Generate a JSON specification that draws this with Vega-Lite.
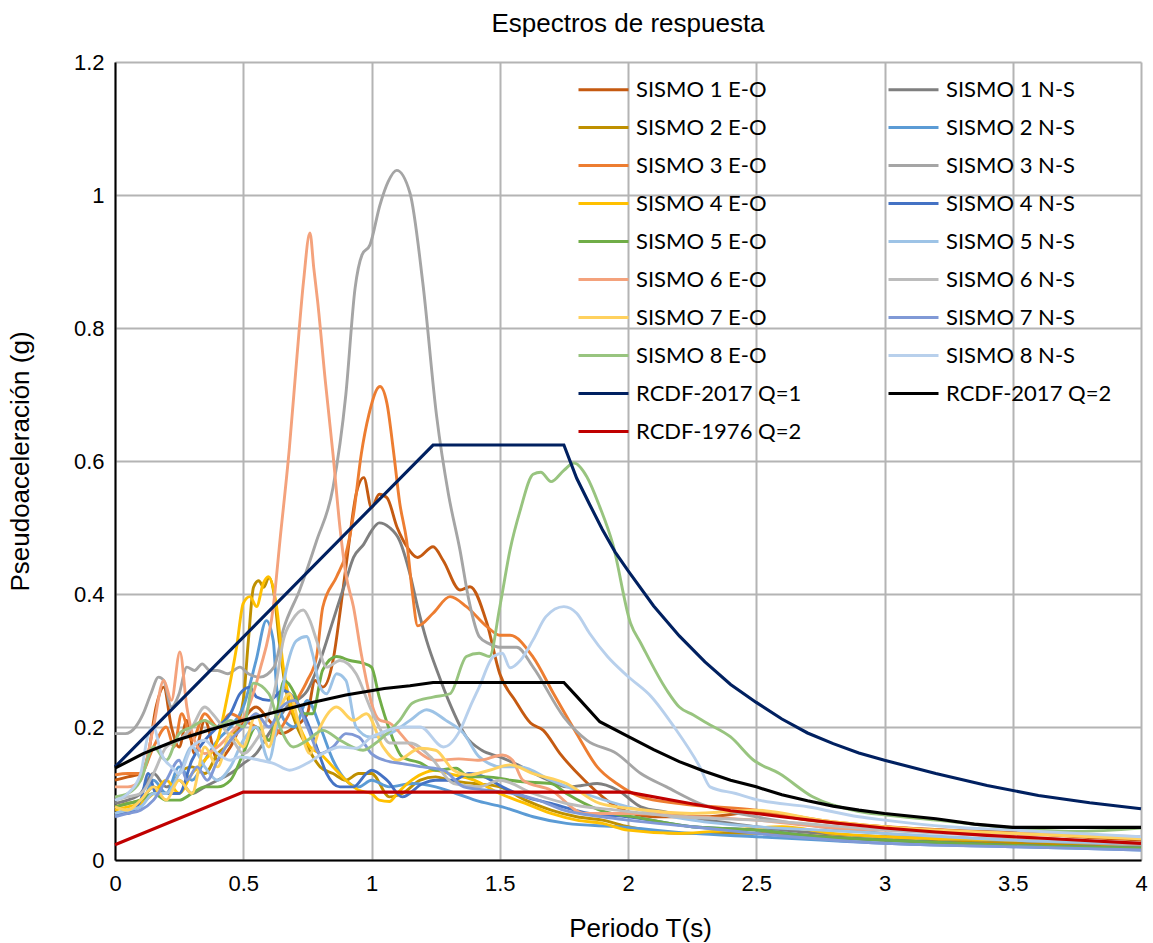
{
"$schema":"https://vega.github.io/schema/vega-lite/v6.json",
"width":1026,"height":798,
"autosize":{"type":"none"},
"padding":{"left":115,"top":62,"right":12,"bottom":83},
"background":"white",
"title":{"text":"Espectros de respuesta","font":"Liberation Sans","fontSize":26,"fontWeight":"normal","color":"#000","anchor":"middle","offset":14},
"datasets":{
"sismos":[
{"serie":"SISMO 1 E-O","T":0,"Sa":0.12},{"serie":"SISMO 1 E-O","T":0.05,"Sa":0.125},{"serie":"SISMO 1 E-O","T":0.1,"Sa":0.13},{"serie":"SISMO 1 E-O","T":0.13,"Sa":0.16},{"serie":"SISMO 1 E-O","T":0.16,"Sa":0.23},{"serie":"SISMO 1 E-O","T":0.19,"Sa":0.26},{"serie":"SISMO 1 E-O","T":0.22,"Sa":0.2},{"serie":"SISMO 1 E-O","T":0.25,"Sa":0.17},{"serie":"SISMO 1 E-O","T":0.28,"Sa":0.21},{"serie":"SISMO 1 E-O","T":0.31,"Sa":0.16},{"serie":"SISMO 1 E-O","T":0.35,"Sa":0.21},{"serie":"SISMO 1 E-O","T":0.4,"Sa":0.15},{"serie":"SISMO 1 E-O","T":0.45,"Sa":0.17},{"serie":"SISMO 1 E-O","T":0.5,"Sa":0.21},{"serie":"SISMO 1 E-O","T":0.55,"Sa":0.23},{"serie":"SISMO 1 E-O","T":0.6,"Sa":0.21},{"serie":"SISMO 1 E-O","T":0.65,"Sa":0.19},{"serie":"SISMO 1 E-O","T":0.7,"Sa":0.2},{"serie":"SISMO 1 E-O","T":0.75,"Sa":0.22},{"serie":"SISMO 1 E-O","T":0.78,"Sa":0.27},{"serie":"SISMO 1 E-O","T":0.81,"Sa":0.26},{"serie":"SISMO 1 E-O","T":0.85,"Sa":0.3},{"serie":"SISMO 1 E-O","T":0.88,"Sa":0.38},{"serie":"SISMO 1 E-O","T":0.91,"Sa":0.47},{"serie":"SISMO 1 E-O","T":0.94,"Sa":0.55},{"serie":"SISMO 1 E-O","T":0.97,"Sa":0.575},{"serie":"SISMO 1 E-O","T":1.0,"Sa":0.53},{"serie":"SISMO 1 E-O","T":1.03,"Sa":0.55},{"serie":"SISMO 1 E-O","T":1.06,"Sa":0.545},{"serie":"SISMO 1 E-O","T":1.1,"Sa":0.5},{"serie":"SISMO 1 E-O","T":1.14,"Sa":0.47},{"serie":"SISMO 1 E-O","T":1.18,"Sa":0.455},{"serie":"SISMO 1 E-O","T":1.24,"Sa":0.471},{"serie":"SISMO 1 E-O","T":1.28,"Sa":0.45},{"serie":"SISMO 1 E-O","T":1.345,"Sa":0.406},{"serie":"SISMO 1 E-O","T":1.384,"Sa":0.411},{"serie":"SISMO 1 E-O","T":1.45,"Sa":0.356},{"serie":"SISMO 1 E-O","T":1.5,"Sa":0.28},{"serie":"SISMO 1 E-O","T":1.56,"Sa":0.24},{"serie":"SISMO 1 E-O","T":1.62,"Sa":0.206},{"serie":"SISMO 1 E-O","T":1.67,"Sa":0.195},{"serie":"SISMO 1 E-O","T":1.735,"Sa":0.16},{"serie":"SISMO 1 E-O","T":1.83,"Sa":0.12},{"serie":"SISMO 1 E-O","T":1.956,"Sa":0.08},{"serie":"SISMO 1 E-O","T":2.1,"Sa":0.065},{"serie":"SISMO 1 E-O","T":2.3,"Sa":0.065},{"serie":"SISMO 1 E-O","T":2.5,"Sa":0.072},{"serie":"SISMO 1 E-O","T":2.7,"Sa":0.06},{"serie":"SISMO 1 E-O","T":3.0,"Sa":0.05},{"serie":"SISMO 1 E-O","T":3.25,"Sa":0.045},{"serie":"SISMO 1 E-O","T":3.5,"Sa":0.042},{"serie":"SISMO 1 E-O","T":3.75,"Sa":0.035},{"serie":"SISMO 1 E-O","T":4.0,"Sa":0.03},
{"serie":"SISMO 1 N-S","T":0,"Sa":0.085},{"serie":"SISMO 1 N-S","T":0.05,"Sa":0.09},{"serie":"SISMO 1 N-S","T":0.1,"Sa":0.1},{"serie":"SISMO 1 N-S","T":0.15,"Sa":0.13},{"serie":"SISMO 1 N-S","T":0.2,"Sa":0.11},{"serie":"SISMO 1 N-S","T":0.25,"Sa":0.12},{"serie":"SISMO 1 N-S","T":0.3,"Sa":0.1},{"serie":"SISMO 1 N-S","T":0.35,"Sa":0.11},{"serie":"SISMO 1 N-S","T":0.4,"Sa":0.12},{"serie":"SISMO 1 N-S","T":0.45,"Sa":0.13},{"serie":"SISMO 1 N-S","T":0.5,"Sa":0.145},{"serie":"SISMO 1 N-S","T":0.55,"Sa":0.16},{"serie":"SISMO 1 N-S","T":0.6,"Sa":0.19},{"serie":"SISMO 1 N-S","T":0.67,"Sa":0.23},{"serie":"SISMO 1 N-S","T":0.75,"Sa":0.255},{"serie":"SISMO 1 N-S","T":0.8,"Sa":0.3},{"serie":"SISMO 1 N-S","T":0.85,"Sa":0.36},{"serie":"SISMO 1 N-S","T":0.9,"Sa":0.42},{"serie":"SISMO 1 N-S","T":0.93,"Sa":0.455},{"serie":"SISMO 1 N-S","T":0.97,"Sa":0.475},{"serie":"SISMO 1 N-S","T":1.0,"Sa":0.495},{"serie":"SISMO 1 N-S","T":1.03,"Sa":0.507},{"serie":"SISMO 1 N-S","T":1.07,"Sa":0.5},{"serie":"SISMO 1 N-S","T":1.11,"Sa":0.48},{"serie":"SISMO 1 N-S","T":1.15,"Sa":0.43},{"serie":"SISMO 1 N-S","T":1.18,"Sa":0.38},{"serie":"SISMO 1 N-S","T":1.215,"Sa":0.33},{"serie":"SISMO 1 N-S","T":1.26,"Sa":0.28},{"serie":"SISMO 1 N-S","T":1.3,"Sa":0.24},{"serie":"SISMO 1 N-S","T":1.37,"Sa":0.185},{"serie":"SISMO 1 N-S","T":1.43,"Sa":0.165},{"serie":"SISMO 1 N-S","T":1.5,"Sa":0.155},{"serie":"SISMO 1 N-S","T":1.56,"Sa":0.145},{"serie":"SISMO 1 N-S","T":1.62,"Sa":0.133},{"serie":"SISMO 1 N-S","T":1.69,"Sa":0.12},{"serie":"SISMO 1 N-S","T":1.76,"Sa":0.11},{"serie":"SISMO 1 N-S","T":1.82,"Sa":0.112},{"serie":"SISMO 1 N-S","T":1.88,"Sa":0.115},{"serie":"SISMO 1 N-S","T":1.96,"Sa":0.105},{"serie":"SISMO 1 N-S","T":2.05,"Sa":0.08},{"serie":"SISMO 1 N-S","T":2.15,"Sa":0.072},{"serie":"SISMO 1 N-S","T":2.28,"Sa":0.062},{"serie":"SISMO 1 N-S","T":2.5,"Sa":0.05},{"serie":"SISMO 1 N-S","T":2.75,"Sa":0.04},{"serie":"SISMO 1 N-S","T":3.0,"Sa":0.035},{"serie":"SISMO 1 N-S","T":3.5,"Sa":0.028},{"serie":"SISMO 1 N-S","T":4.0,"Sa":0.02},
{"serie":"SISMO 2 E-O","T":0,"Sa":0.08},{"serie":"SISMO 2 E-O","T":0.05,"Sa":0.085},{"serie":"SISMO 2 E-O","T":0.1,"Sa":0.09},{"serie":"SISMO 2 E-O","T":0.15,"Sa":0.11},{"serie":"SISMO 2 E-O","T":0.2,"Sa":0.1},{"serie":"SISMO 2 E-O","T":0.25,"Sa":0.13},{"serie":"SISMO 2 E-O","T":0.3,"Sa":0.14},{"serie":"SISMO 2 E-O","T":0.35,"Sa":0.13},{"serie":"SISMO 2 E-O","T":0.4,"Sa":0.16},{"serie":"SISMO 2 E-O","T":0.45,"Sa":0.18},{"serie":"SISMO 2 E-O","T":0.5,"Sa":0.24},{"serie":"SISMO 2 E-O","T":0.52,"Sa":0.33},{"serie":"SISMO 2 E-O","T":0.54,"Sa":0.41},{"serie":"SISMO 2 E-O","T":0.56,"Sa":0.42},{"serie":"SISMO 2 E-O","T":0.58,"Sa":0.41},{"serie":"SISMO 2 E-O","T":0.6,"Sa":0.425},{"serie":"SISMO 2 E-O","T":0.62,"Sa":0.4},{"serie":"SISMO 2 E-O","T":0.64,"Sa":0.33},{"serie":"SISMO 2 E-O","T":0.66,"Sa":0.27},{"serie":"SISMO 2 E-O","T":0.7,"Sa":0.21},{"serie":"SISMO 2 E-O","T":0.75,"Sa":0.17},{"serie":"SISMO 2 E-O","T":0.8,"Sa":0.14},{"serie":"SISMO 2 E-O","T":0.85,"Sa":0.13},{"serie":"SISMO 2 E-O","T":0.9,"Sa":0.12},{"serie":"SISMO 2 E-O","T":0.95,"Sa":0.13},{"serie":"SISMO 2 E-O","T":1.0,"Sa":0.13},{"serie":"SISMO 2 E-O","T":1.07,"Sa":0.095},{"serie":"SISMO 2 E-O","T":1.12,"Sa":0.1},{"serie":"SISMO 2 E-O","T":1.19,"Sa":0.12},{"serie":"SISMO 2 E-O","T":1.25,"Sa":0.125},{"serie":"SISMO 2 E-O","T":1.3,"Sa":0.12},{"serie":"SISMO 2 E-O","T":1.4,"Sa":0.115},{"serie":"SISMO 2 E-O","T":1.5,"Sa":0.11},{"serie":"SISMO 2 E-O","T":1.6,"Sa":0.09},{"serie":"SISMO 2 E-O","T":1.7,"Sa":0.075},{"serie":"SISMO 2 E-O","T":1.8,"Sa":0.065},{"serie":"SISMO 2 E-O","T":1.9,"Sa":0.06},{"serie":"SISMO 2 E-O","T":2.0,"Sa":0.05},{"serie":"SISMO 2 E-O","T":2.2,"Sa":0.04},{"serie":"SISMO 2 E-O","T":2.5,"Sa":0.04},{"serie":"SISMO 2 E-O","T":3.0,"Sa":0.03},{"serie":"SISMO 2 E-O","T":3.5,"Sa":0.025},{"serie":"SISMO 2 E-O","T":4.0,"Sa":0.02},
{"serie":"SISMO 2 N-S","T":0,"Sa":0.07},{"serie":"SISMO 2 N-S","T":0.05,"Sa":0.075},{"serie":"SISMO 2 N-S","T":0.1,"Sa":0.08},{"serie":"SISMO 2 N-S","T":0.15,"Sa":0.12},{"serie":"SISMO 2 N-S","T":0.2,"Sa":0.1},{"serie":"SISMO 2 N-S","T":0.25,"Sa":0.14},{"serie":"SISMO 2 N-S","T":0.3,"Sa":0.12},{"serie":"SISMO 2 N-S","T":0.35,"Sa":0.15},{"serie":"SISMO 2 N-S","T":0.4,"Sa":0.18},{"serie":"SISMO 2 N-S","T":0.45,"Sa":0.2},{"serie":"SISMO 2 N-S","T":0.5,"Sa":0.23},{"serie":"SISMO 2 N-S","T":0.55,"Sa":0.3},{"serie":"SISMO 2 N-S","T":0.59,"Sa":0.36},{"serie":"SISMO 2 N-S","T":0.617,"Sa":0.33},{"serie":"SISMO 2 N-S","T":0.63,"Sa":0.26},{"serie":"SISMO 2 N-S","T":0.66,"Sa":0.21},{"serie":"SISMO 2 N-S","T":0.7,"Sa":0.2},{"serie":"SISMO 2 N-S","T":0.75,"Sa":0.24},{"serie":"SISMO 2 N-S","T":0.8,"Sa":0.2},{"serie":"SISMO 2 N-S","T":0.85,"Sa":0.15},{"serie":"SISMO 2 N-S","T":0.9,"Sa":0.12},{"serie":"SISMO 2 N-S","T":0.95,"Sa":0.11},{"serie":"SISMO 2 N-S","T":1.0,"Sa":0.12},{"serie":"SISMO 2 N-S","T":1.07,"Sa":0.11},{"serie":"SISMO 2 N-S","T":1.16,"Sa":0.115},{"serie":"SISMO 2 N-S","T":1.25,"Sa":0.11},{"serie":"SISMO 2 N-S","T":1.33,"Sa":0.1},{"serie":"SISMO 2 N-S","T":1.42,"Sa":0.088},{"serie":"SISMO 2 N-S","T":1.51,"Sa":0.08},{"serie":"SISMO 2 N-S","T":1.63,"Sa":0.065},{"serie":"SISMO 2 N-S","T":1.76,"Sa":0.055},{"serie":"SISMO 2 N-S","T":1.96,"Sa":0.05},{"serie":"SISMO 2 N-S","T":2.25,"Sa":0.04},{"serie":"SISMO 2 N-S","T":2.5,"Sa":0.035},{"serie":"SISMO 2 N-S","T":2.75,"Sa":0.03},{"serie":"SISMO 2 N-S","T":3.0,"Sa":0.025},{"serie":"SISMO 2 N-S","T":3.5,"Sa":0.02},{"serie":"SISMO 2 N-S","T":4.0,"Sa":0.015},
{"serie":"SISMO 3 E-O","T":0,"Sa":0.128},{"serie":"SISMO 3 E-O","T":0.05,"Sa":0.13},{"serie":"SISMO 3 E-O","T":0.1,"Sa":0.13},{"serie":"SISMO 3 E-O","T":0.15,"Sa":0.17},{"serie":"SISMO 3 E-O","T":0.2,"Sa":0.2},{"serie":"SISMO 3 E-O","T":0.23,"Sa":0.17},{"serie":"SISMO 3 E-O","T":0.26,"Sa":0.22},{"serie":"SISMO 3 E-O","T":0.3,"Sa":0.18},{"serie":"SISMO 3 E-O","T":0.35,"Sa":0.22},{"serie":"SISMO 3 E-O","T":0.4,"Sa":0.2},{"serie":"SISMO 3 E-O","T":0.45,"Sa":0.22},{"serie":"SISMO 3 E-O","T":0.5,"Sa":0.21},{"serie":"SISMO 3 E-O","T":0.55,"Sa":0.2},{"serie":"SISMO 3 E-O","T":0.6,"Sa":0.18},{"serie":"SISMO 3 E-O","T":0.65,"Sa":0.2},{"serie":"SISMO 3 E-O","T":0.7,"Sa":0.235},{"serie":"SISMO 3 E-O","T":0.75,"Sa":0.27},{"serie":"SISMO 3 E-O","T":0.786,"Sa":0.306},{"serie":"SISMO 3 E-O","T":0.81,"Sa":0.38},{"serie":"SISMO 3 E-O","T":0.864,"Sa":0.426},{"serie":"SISMO 3 E-O","T":0.9,"Sa":0.46},{"serie":"SISMO 3 E-O","T":0.93,"Sa":0.52},{"serie":"SISMO 3 E-O","T":0.96,"Sa":0.61},{"serie":"SISMO 3 E-O","T":0.99,"Sa":0.67},{"serie":"SISMO 3 E-O","T":1.033,"Sa":0.712},{"serie":"SISMO 3 E-O","T":1.06,"Sa":0.687},{"serie":"SISMO 3 E-O","T":1.085,"Sa":0.617},{"serie":"SISMO 3 E-O","T":1.11,"Sa":0.537},{"serie":"SISMO 3 E-O","T":1.137,"Sa":0.48},{"serie":"SISMO 3 E-O","T":1.16,"Sa":0.4},{"serie":"SISMO 3 E-O","T":1.18,"Sa":0.352},{"serie":"SISMO 3 E-O","T":1.24,"Sa":0.371},{"serie":"SISMO 3 E-O","T":1.306,"Sa":0.396},{"serie":"SISMO 3 E-O","T":1.37,"Sa":0.381},{"serie":"SISMO 3 E-O","T":1.45,"Sa":0.351},{"serie":"SISMO 3 E-O","T":1.5,"Sa":0.338},{"serie":"SISMO 3 E-O","T":1.54,"Sa":0.338},{"serie":"SISMO 3 E-O","T":1.63,"Sa":0.305},{"serie":"SISMO 3 E-O","T":1.71,"Sa":0.25},{"serie":"SISMO 3 E-O","T":1.8,"Sa":0.19},{"serie":"SISMO 3 E-O","T":1.88,"Sa":0.14},{"serie":"SISMO 3 E-O","T":1.956,"Sa":0.115},{"serie":"SISMO 3 E-O","T":2.05,"Sa":0.095},{"serie":"SISMO 3 E-O","T":2.2,"Sa":0.085},{"serie":"SISMO 3 E-O","T":2.5,"Sa":0.075},{"serie":"SISMO 3 E-O","T":2.75,"Sa":0.06},{"serie":"SISMO 3 E-O","T":3.0,"Sa":0.05},{"serie":"SISMO 3 E-O","T":3.5,"Sa":0.04},{"serie":"SISMO 3 E-O","T":4.0,"Sa":0.032},
{"serie":"SISMO 3 N-S","T":0,"Sa":0.19},{"serie":"SISMO 3 N-S","T":0.04,"Sa":0.19},{"serie":"SISMO 3 N-S","T":0.08,"Sa":0.2},{"serie":"SISMO 3 N-S","T":0.11,"Sa":0.22},{"serie":"SISMO 3 N-S","T":0.14,"Sa":0.25},{"serie":"SISMO 3 N-S","T":0.17,"Sa":0.275},{"serie":"SISMO 3 N-S","T":0.19,"Sa":0.27},{"serie":"SISMO 3 N-S","T":0.22,"Sa":0.23},{"serie":"SISMO 3 N-S","T":0.25,"Sa":0.25},{"serie":"SISMO 3 N-S","T":0.28,"Sa":0.29},{"serie":"SISMO 3 N-S","T":0.31,"Sa":0.285},{"serie":"SISMO 3 N-S","T":0.34,"Sa":0.295},{"serie":"SISMO 3 N-S","T":0.37,"Sa":0.285},{"serie":"SISMO 3 N-S","T":0.4,"Sa":0.285},{"serie":"SISMO 3 N-S","T":0.44,"Sa":0.28},{"serie":"SISMO 3 N-S","T":0.487,"Sa":0.29},{"serie":"SISMO 3 N-S","T":0.52,"Sa":0.28},{"serie":"SISMO 3 N-S","T":0.565,"Sa":0.275},{"serie":"SISMO 3 N-S","T":0.62,"Sa":0.29},{"serie":"SISMO 3 N-S","T":0.656,"Sa":0.346},{"serie":"SISMO 3 N-S","T":0.72,"Sa":0.406},{"serie":"SISMO 3 N-S","T":0.786,"Sa":0.48},{"serie":"SISMO 3 N-S","T":0.85,"Sa":0.56},{"serie":"SISMO 3 N-S","T":0.9,"Sa":0.7},{"serie":"SISMO 3 N-S","T":0.936,"Sa":0.86},{"serie":"SISMO 3 N-S","T":0.963,"Sa":0.91},{"serie":"SISMO 3 N-S","T":0.994,"Sa":0.925},{"serie":"SISMO 3 N-S","T":1.033,"Sa":0.985},{"serie":"SISMO 3 N-S","T":1.065,"Sa":1.02},{"serie":"SISMO 3 N-S","T":1.098,"Sa":1.037},{"serie":"SISMO 3 N-S","T":1.15,"Sa":1.003},{"serie":"SISMO 3 N-S","T":1.2,"Sa":0.868},{"serie":"SISMO 3 N-S","T":1.254,"Sa":0.667},{"serie":"SISMO 3 N-S","T":1.3,"Sa":0.55},{"serie":"SISMO 3 N-S","T":1.345,"Sa":0.466},{"serie":"SISMO 3 N-S","T":1.38,"Sa":0.39},{"serie":"SISMO 3 N-S","T":1.42,"Sa":0.336},{"serie":"SISMO 3 N-S","T":1.46,"Sa":0.325},{"serie":"SISMO 3 N-S","T":1.5,"Sa":0.32},{"serie":"SISMO 3 N-S","T":1.566,"Sa":0.32},{"serie":"SISMO 3 N-S","T":1.63,"Sa":0.29},{"serie":"SISMO 3 N-S","T":1.75,"Sa":0.215},{"serie":"SISMO 3 N-S","T":1.84,"Sa":0.18},{"serie":"SISMO 3 N-S","T":1.956,"Sa":0.16},{"serie":"SISMO 3 N-S","T":2.05,"Sa":0.13},{"serie":"SISMO 3 N-S","T":2.15,"Sa":0.11},{"serie":"SISMO 3 N-S","T":2.28,"Sa":0.085},{"serie":"SISMO 3 N-S","T":2.5,"Sa":0.065},{"serie":"SISMO 3 N-S","T":2.75,"Sa":0.05},{"serie":"SISMO 3 N-S","T":3.0,"Sa":0.04},{"serie":"SISMO 3 N-S","T":3.5,"Sa":0.03},{"serie":"SISMO 3 N-S","T":4.0,"Sa":0.022},
{"serie":"SISMO 4 E-O","T":0,"Sa":0.075},{"serie":"SISMO 4 E-O","T":0.05,"Sa":0.08},{"serie":"SISMO 4 E-O","T":0.1,"Sa":0.085},{"serie":"SISMO 4 E-O","T":0.15,"Sa":0.1},{"serie":"SISMO 4 E-O","T":0.2,"Sa":0.12},{"serie":"SISMO 4 E-O","T":0.25,"Sa":0.1},{"serie":"SISMO 4 E-O","T":0.3,"Sa":0.13},{"serie":"SISMO 4 E-O","T":0.35,"Sa":0.15},{"serie":"SISMO 4 E-O","T":0.4,"Sa":0.18},{"serie":"SISMO 4 E-O","T":0.435,"Sa":0.24},{"serie":"SISMO 4 E-O","T":0.474,"Sa":0.32},{"serie":"SISMO 4 E-O","T":0.5,"Sa":0.386},{"serie":"SISMO 4 E-O","T":0.526,"Sa":0.396},{"serie":"SISMO 4 E-O","T":0.552,"Sa":0.381},{"serie":"SISMO 4 E-O","T":0.578,"Sa":0.416},{"serie":"SISMO 4 E-O","T":0.598,"Sa":0.426},{"serie":"SISMO 4 E-O","T":0.63,"Sa":0.381},{"serie":"SISMO 4 E-O","T":0.656,"Sa":0.29},{"serie":"SISMO 4 E-O","T":0.68,"Sa":0.24},{"serie":"SISMO 4 E-O","T":0.72,"Sa":0.2},{"serie":"SISMO 4 E-O","T":0.76,"Sa":0.17},{"serie":"SISMO 4 E-O","T":0.8,"Sa":0.16},{"serie":"SISMO 4 E-O","T":0.85,"Sa":0.14},{"serie":"SISMO 4 E-O","T":0.9,"Sa":0.12},{"serie":"SISMO 4 E-O","T":0.95,"Sa":0.105},{"serie":"SISMO 4 E-O","T":1.0,"Sa":0.1},{"serie":"SISMO 4 E-O","T":1.03,"Sa":0.09},{"serie":"SISMO 4 E-O","T":1.07,"Sa":0.088},{"serie":"SISMO 4 E-O","T":1.1,"Sa":0.1},{"serie":"SISMO 4 E-O","T":1.14,"Sa":0.115},{"serie":"SISMO 4 E-O","T":1.2,"Sa":0.13},{"serie":"SISMO 4 E-O","T":1.25,"Sa":0.135},{"serie":"SISMO 4 E-O","T":1.3,"Sa":0.13},{"serie":"SISMO 4 E-O","T":1.4,"Sa":0.12},{"serie":"SISMO 4 E-O","T":1.5,"Sa":0.1},{"serie":"SISMO 4 E-O","T":1.6,"Sa":0.085},{"serie":"SISMO 4 E-O","T":1.7,"Sa":0.07},{"serie":"SISMO 4 E-O","T":1.8,"Sa":0.06},{"serie":"SISMO 4 E-O","T":1.9,"Sa":0.055},{"serie":"SISMO 4 E-O","T":2.0,"Sa":0.045},{"serie":"SISMO 4 E-O","T":2.2,"Sa":0.04},{"serie":"SISMO 4 E-O","T":2.4,"Sa":0.045},{"serie":"SISMO 4 E-O","T":2.6,"Sa":0.05},{"serie":"SISMO 4 E-O","T":2.8,"Sa":0.04},{"serie":"SISMO 4 E-O","T":3.0,"Sa":0.035},{"serie":"SISMO 4 E-O","T":3.5,"Sa":0.03},{"serie":"SISMO 4 E-O","T":4.0,"Sa":0.025},
{"serie":"SISMO 4 N-S","T":0,"Sa":0.07},{"serie":"SISMO 4 N-S","T":0.05,"Sa":0.07},{"serie":"SISMO 4 N-S","T":0.1,"Sa":0.09},{"serie":"SISMO 4 N-S","T":0.13,"Sa":0.13},{"serie":"SISMO 4 N-S","T":0.16,"Sa":0.1},{"serie":"SISMO 4 N-S","T":0.2,"Sa":0.1},{"serie":"SISMO 4 N-S","T":0.25,"Sa":0.1},{"serie":"SISMO 4 N-S","T":0.3,"Sa":0.15},{"serie":"SISMO 4 N-S","T":0.35,"Sa":0.18},{"serie":"SISMO 4 N-S","T":0.4,"Sa":0.2},{"serie":"SISMO 4 N-S","T":0.45,"Sa":0.22},{"serie":"SISMO 4 N-S","T":0.487,"Sa":0.25},{"serie":"SISMO 4 N-S","T":0.526,"Sa":0.26},{"serie":"SISMO 4 N-S","T":0.552,"Sa":0.245},{"serie":"SISMO 4 N-S","T":0.6,"Sa":0.24},{"serie":"SISMO 4 N-S","T":0.656,"Sa":0.255},{"serie":"SISMO 4 N-S","T":0.695,"Sa":0.245},{"serie":"SISMO 4 N-S","T":0.747,"Sa":0.21},{"serie":"SISMO 4 N-S","T":0.786,"Sa":0.17},{"serie":"SISMO 4 N-S","T":0.825,"Sa":0.13},{"serie":"SISMO 4 N-S","T":0.877,"Sa":0.11},{"serie":"SISMO 4 N-S","T":0.93,"Sa":0.11},{"serie":"SISMO 4 N-S","T":0.98,"Sa":0.13},{"serie":"SISMO 4 N-S","T":1.0,"Sa":0.135},{"serie":"SISMO 4 N-S","T":1.06,"Sa":0.12},{"serie":"SISMO 4 N-S","T":1.12,"Sa":0.095},{"serie":"SISMO 4 N-S","T":1.2,"Sa":0.115},{"serie":"SISMO 4 N-S","T":1.25,"Sa":0.12},{"serie":"SISMO 4 N-S","T":1.32,"Sa":0.12},{"serie":"SISMO 4 N-S","T":1.38,"Sa":0.13},{"serie":"SISMO 4 N-S","T":1.44,"Sa":0.125},{"serie":"SISMO 4 N-S","T":1.51,"Sa":0.11},{"serie":"SISMO 4 N-S","T":1.6,"Sa":0.095},{"serie":"SISMO 4 N-S","T":1.7,"Sa":0.085},{"serie":"SISMO 4 N-S","T":1.85,"Sa":0.07},{"serie":"SISMO 4 N-S","T":2.0,"Sa":0.065},{"serie":"SISMO 4 N-S","T":2.25,"Sa":0.05},{"serie":"SISMO 4 N-S","T":2.5,"Sa":0.045},{"serie":"SISMO 4 N-S","T":2.75,"Sa":0.035},{"serie":"SISMO 4 N-S","T":3.0,"Sa":0.03},{"serie":"SISMO 4 N-S","T":3.5,"Sa":0.022},{"serie":"SISMO 4 N-S","T":4.0,"Sa":0.018},
{"serie":"SISMO 5 E-O","T":0,"Sa":0.08},{"serie":"SISMO 5 E-O","T":0.05,"Sa":0.085},{"serie":"SISMO 5 E-O","T":0.1,"Sa":0.09},{"serie":"SISMO 5 E-O","T":0.15,"Sa":0.1},{"serie":"SISMO 5 E-O","T":0.2,"Sa":0.09},{"serie":"SISMO 5 E-O","T":0.25,"Sa":0.09},{"serie":"SISMO 5 E-O","T":0.3,"Sa":0.1},{"serie":"SISMO 5 E-O","T":0.35,"Sa":0.11},{"serie":"SISMO 5 E-O","T":0.4,"Sa":0.11},{"serie":"SISMO 5 E-O","T":0.45,"Sa":0.12},{"serie":"SISMO 5 E-O","T":0.5,"Sa":0.16},{"serie":"SISMO 5 E-O","T":0.55,"Sa":0.2},{"serie":"SISMO 5 E-O","T":0.6,"Sa":0.18},{"serie":"SISMO 5 E-O","T":0.63,"Sa":0.22},{"serie":"SISMO 5 E-O","T":0.66,"Sa":0.27},{"serie":"SISMO 5 E-O","T":0.7,"Sa":0.25},{"serie":"SISMO 5 E-O","T":0.73,"Sa":0.22},{"serie":"SISMO 5 E-O","T":0.77,"Sa":0.22},{"serie":"SISMO 5 E-O","T":0.81,"Sa":0.286},{"serie":"SISMO 5 E-O","T":0.864,"Sa":0.306},{"serie":"SISMO 5 E-O","T":0.916,"Sa":0.3},{"serie":"SISMO 5 E-O","T":0.967,"Sa":0.296},{"serie":"SISMO 5 E-O","T":1.0,"Sa":0.29},{"serie":"SISMO 5 E-O","T":1.03,"Sa":0.245},{"serie":"SISMO 5 E-O","T":1.07,"Sa":0.196},{"serie":"SISMO 5 E-O","T":1.12,"Sa":0.155},{"serie":"SISMO 5 E-O","T":1.19,"Sa":0.146},{"serie":"SISMO 5 E-O","T":1.25,"Sa":0.135},{"serie":"SISMO 5 E-O","T":1.33,"Sa":0.138},{"serie":"SISMO 5 E-O","T":1.38,"Sa":0.125},{"serie":"SISMO 5 E-O","T":1.45,"Sa":0.125},{"serie":"SISMO 5 E-O","T":1.54,"Sa":0.12},{"serie":"SISMO 5 E-O","T":1.58,"Sa":0.118},{"serie":"SISMO 5 E-O","T":1.7,"Sa":0.115},{"serie":"SISMO 5 E-O","T":1.76,"Sa":0.1},{"serie":"SISMO 5 E-O","T":1.89,"Sa":0.075},{"serie":"SISMO 5 E-O","T":2.05,"Sa":0.063},{"serie":"SISMO 5 E-O","T":2.25,"Sa":0.05},{"serie":"SISMO 5 E-O","T":2.5,"Sa":0.045},{"serie":"SISMO 5 E-O","T":2.75,"Sa":0.035},{"serie":"SISMO 5 E-O","T":3.0,"Sa":0.03},{"serie":"SISMO 5 E-O","T":3.5,"Sa":0.022},{"serie":"SISMO 5 E-O","T":4.0,"Sa":0.018},
{"serie":"SISMO 5 N-S","T":0,"Sa":0.07},{"serie":"SISMO 5 N-S","T":0.05,"Sa":0.075},{"serie":"SISMO 5 N-S","T":0.1,"Sa":0.08},{"serie":"SISMO 5 N-S","T":0.15,"Sa":0.1},{"serie":"SISMO 5 N-S","T":0.2,"Sa":0.1},{"serie":"SISMO 5 N-S","T":0.25,"Sa":0.13},{"serie":"SISMO 5 N-S","T":0.3,"Sa":0.17},{"serie":"SISMO 5 N-S","T":0.35,"Sa":0.14},{"serie":"SISMO 5 N-S","T":0.4,"Sa":0.12},{"serie":"SISMO 5 N-S","T":0.45,"Sa":0.14},{"serie":"SISMO 5 N-S","T":0.5,"Sa":0.18},{"serie":"SISMO 5 N-S","T":0.55,"Sa":0.2},{"serie":"SISMO 5 N-S","T":0.6,"Sa":0.15},{"serie":"SISMO 5 N-S","T":0.63,"Sa":0.2},{"serie":"SISMO 5 N-S","T":0.67,"Sa":0.29},{"serie":"SISMO 5 N-S","T":0.708,"Sa":0.33},{"serie":"SISMO 5 N-S","T":0.747,"Sa":0.336},{"serie":"SISMO 5 N-S","T":0.77,"Sa":0.31},{"serie":"SISMO 5 N-S","T":0.8,"Sa":0.26},{"serie":"SISMO 5 N-S","T":0.825,"Sa":0.25},{"serie":"SISMO 5 N-S","T":0.864,"Sa":0.28},{"serie":"SISMO 5 N-S","T":0.9,"Sa":0.27},{"serie":"SISMO 5 N-S","T":0.94,"Sa":0.2},{"serie":"SISMO 5 N-S","T":0.994,"Sa":0.185},{"serie":"SISMO 5 N-S","T":1.07,"Sa":0.19},{"serie":"SISMO 5 N-S","T":1.15,"Sa":0.21},{"serie":"SISMO 5 N-S","T":1.215,"Sa":0.226},{"serie":"SISMO 5 N-S","T":1.29,"Sa":0.21},{"serie":"SISMO 5 N-S","T":1.36,"Sa":0.19},{"serie":"SISMO 5 N-S","T":1.42,"Sa":0.155},{"serie":"SISMO 5 N-S","T":1.51,"Sa":0.14},{"serie":"SISMO 5 N-S","T":1.58,"Sa":0.14},{"serie":"SISMO 5 N-S","T":1.7,"Sa":0.12},{"serie":"SISMO 5 N-S","T":1.83,"Sa":0.1},{"serie":"SISMO 5 N-S","T":2.0,"Sa":0.08},{"serie":"SISMO 5 N-S","T":2.25,"Sa":0.06},{"serie":"SISMO 5 N-S","T":2.5,"Sa":0.05},{"serie":"SISMO 5 N-S","T":2.75,"Sa":0.045},{"serie":"SISMO 5 N-S","T":3.0,"Sa":0.04},{"serie":"SISMO 5 N-S","T":3.5,"Sa":0.03},{"serie":"SISMO 5 N-S","T":4.0,"Sa":0.025},
{"serie":"SISMO 6 E-O","T":0,"Sa":0.11},{"serie":"SISMO 6 E-O","T":0.05,"Sa":0.11},{"serie":"SISMO 6 E-O","T":0.1,"Sa":0.12},{"serie":"SISMO 6 E-O","T":0.15,"Sa":0.2},{"serie":"SISMO 6 E-O","T":0.19,"Sa":0.27},{"serie":"SISMO 6 E-O","T":0.22,"Sa":0.24},{"serie":"SISMO 6 E-O","T":0.253,"Sa":0.313},{"serie":"SISMO 6 E-O","T":0.28,"Sa":0.23},{"serie":"SISMO 6 E-O","T":0.31,"Sa":0.18},{"serie":"SISMO 6 E-O","T":0.35,"Sa":0.16},{"serie":"SISMO 6 E-O","T":0.4,"Sa":0.17},{"serie":"SISMO 6 E-O","T":0.45,"Sa":0.19},{"serie":"SISMO 6 E-O","T":0.51,"Sa":0.22},{"serie":"SISMO 6 E-O","T":0.565,"Sa":0.286},{"serie":"SISMO 6 E-O","T":0.617,"Sa":0.38},{"serie":"SISMO 6 E-O","T":0.643,"Sa":0.48},{"serie":"SISMO 6 E-O","T":0.68,"Sa":0.62},{"serie":"SISMO 6 E-O","T":0.71,"Sa":0.76},{"serie":"SISMO 6 E-O","T":0.735,"Sa":0.87},{"serie":"SISMO 6 E-O","T":0.76,"Sa":0.943},{"serie":"SISMO 6 E-O","T":0.775,"Sa":0.89},{"serie":"SISMO 6 E-O","T":0.79,"Sa":0.84},{"serie":"SISMO 6 E-O","T":0.82,"Sa":0.72},{"serie":"SISMO 6 E-O","T":0.85,"Sa":0.61},{"serie":"SISMO 6 E-O","T":0.877,"Sa":0.5},{"serie":"SISMO 6 E-O","T":0.9,"Sa":0.43},{"serie":"SISMO 6 E-O","T":0.93,"Sa":0.38},{"serie":"SISMO 6 E-O","T":0.96,"Sa":0.31},{"serie":"SISMO 6 E-O","T":0.98,"Sa":0.27},{"serie":"SISMO 6 E-O","T":1.0,"Sa":0.236},{"serie":"SISMO 6 E-O","T":1.03,"Sa":0.211},{"serie":"SISMO 6 E-O","T":1.07,"Sa":0.206},{"serie":"SISMO 6 E-O","T":1.16,"Sa":0.17},{"serie":"SISMO 6 E-O","T":1.25,"Sa":0.15},{"serie":"SISMO 6 E-O","T":1.34,"Sa":0.152},{"serie":"SISMO 6 E-O","T":1.42,"Sa":0.15},{"serie":"SISMO 6 E-O","T":1.51,"Sa":0.158},{"serie":"SISMO 6 E-O","T":1.55,"Sa":0.15},{"serie":"SISMO 6 E-O","T":1.59,"Sa":0.12},{"serie":"SISMO 6 E-O","T":1.7,"Sa":0.105},{"serie":"SISMO 6 E-O","T":1.83,"Sa":0.07},{"serie":"SISMO 6 E-O","T":2.02,"Sa":0.07},{"serie":"SISMO 6 E-O","T":2.25,"Sa":0.065},{"serie":"SISMO 6 E-O","T":2.5,"Sa":0.06},{"serie":"SISMO 6 E-O","T":2.75,"Sa":0.05},{"serie":"SISMO 6 E-O","T":3.0,"Sa":0.045},{"serie":"SISMO 6 E-O","T":3.5,"Sa":0.04},{"serie":"SISMO 6 E-O","T":4.0,"Sa":0.035},
{"serie":"SISMO 6 N-S","T":0,"Sa":0.09},{"serie":"SISMO 6 N-S","T":0.05,"Sa":0.095},{"serie":"SISMO 6 N-S","T":0.1,"Sa":0.1},{"serie":"SISMO 6 N-S","T":0.15,"Sa":0.13},{"serie":"SISMO 6 N-S","T":0.2,"Sa":0.17},{"serie":"SISMO 6 N-S","T":0.25,"Sa":0.18},{"serie":"SISMO 6 N-S","T":0.3,"Sa":0.2},{"serie":"SISMO 6 N-S","T":0.35,"Sa":0.23},{"serie":"SISMO 6 N-S","T":0.38,"Sa":0.22},{"serie":"SISMO 6 N-S","T":0.42,"Sa":0.2},{"serie":"SISMO 6 N-S","T":0.46,"Sa":0.18},{"serie":"SISMO 6 N-S","T":0.5,"Sa":0.16},{"serie":"SISMO 6 N-S","T":0.55,"Sa":0.18},{"serie":"SISMO 6 N-S","T":0.6,"Sa":0.22},{"serie":"SISMO 6 N-S","T":0.63,"Sa":0.27},{"serie":"SISMO 6 N-S","T":0.656,"Sa":0.33},{"serie":"SISMO 6 N-S","T":0.69,"Sa":0.36},{"serie":"SISMO 6 N-S","T":0.734,"Sa":0.376},{"serie":"SISMO 6 N-S","T":0.76,"Sa":0.36},{"serie":"SISMO 6 N-S","T":0.786,"Sa":0.33},{"serie":"SISMO 6 N-S","T":0.825,"Sa":0.29},{"serie":"SISMO 6 N-S","T":0.877,"Sa":0.3},{"serie":"SISMO 6 N-S","T":0.94,"Sa":0.28},{"serie":"SISMO 6 N-S","T":0.994,"Sa":0.23},{"serie":"SISMO 6 N-S","T":1.03,"Sa":0.2},{"serie":"SISMO 6 N-S","T":1.07,"Sa":0.176},{"serie":"SISMO 6 N-S","T":1.15,"Sa":0.176},{"serie":"SISMO 6 N-S","T":1.23,"Sa":0.155},{"serie":"SISMO 6 N-S","T":1.32,"Sa":0.115},{"serie":"SISMO 6 N-S","T":1.42,"Sa":0.11},{"serie":"SISMO 6 N-S","T":1.5,"Sa":0.12},{"serie":"SISMO 6 N-S","T":1.63,"Sa":0.1},{"serie":"SISMO 6 N-S","T":1.76,"Sa":0.085},{"serie":"SISMO 6 N-S","T":1.956,"Sa":0.075},{"serie":"SISMO 6 N-S","T":2.2,"Sa":0.065},{"serie":"SISMO 6 N-S","T":2.5,"Sa":0.06},{"serie":"SISMO 6 N-S","T":3.0,"Sa":0.045},{"serie":"SISMO 6 N-S","T":3.5,"Sa":0.035},{"serie":"SISMO 6 N-S","T":4.0,"Sa":0.025},
{"serie":"SISMO 7 E-O","T":0,"Sa":0.08},{"serie":"SISMO 7 E-O","T":0.05,"Sa":0.075},{"serie":"SISMO 7 E-O","T":0.1,"Sa":0.09},{"serie":"SISMO 7 E-O","T":0.15,"Sa":0.11},{"serie":"SISMO 7 E-O","T":0.2,"Sa":0.09},{"serie":"SISMO 7 E-O","T":0.25,"Sa":0.12},{"serie":"SISMO 7 E-O","T":0.3,"Sa":0.1},{"serie":"SISMO 7 E-O","T":0.35,"Sa":0.17},{"serie":"SISMO 7 E-O","T":0.4,"Sa":0.14},{"serie":"SISMO 7 E-O","T":0.45,"Sa":0.19},{"serie":"SISMO 7 E-O","T":0.5,"Sa":0.17},{"serie":"SISMO 7 E-O","T":0.55,"Sa":0.22},{"serie":"SISMO 7 E-O","T":0.6,"Sa":0.17},{"serie":"SISMO 7 E-O","T":0.63,"Sa":0.21},{"serie":"SISMO 7 E-O","T":0.68,"Sa":0.25},{"serie":"SISMO 7 E-O","T":0.72,"Sa":0.2},{"serie":"SISMO 7 E-O","T":0.76,"Sa":0.16},{"serie":"SISMO 7 E-O","T":0.8,"Sa":0.2},{"serie":"SISMO 7 E-O","T":0.864,"Sa":0.23},{"serie":"SISMO 7 E-O","T":0.93,"Sa":0.21},{"serie":"SISMO 7 E-O","T":0.98,"Sa":0.22},{"serie":"SISMO 7 E-O","T":1.045,"Sa":0.17},{"serie":"SISMO 7 E-O","T":1.1,"Sa":0.15},{"serie":"SISMO 7 E-O","T":1.19,"Sa":0.168},{"serie":"SISMO 7 E-O","T":1.25,"Sa":0.165},{"serie":"SISMO 7 E-O","T":1.32,"Sa":0.135},{"serie":"SISMO 7 E-O","T":1.38,"Sa":0.128},{"serie":"SISMO 7 E-O","T":1.46,"Sa":0.135},{"serie":"SISMO 7 E-O","T":1.54,"Sa":0.143},{"serie":"SISMO 7 E-O","T":1.63,"Sa":0.13},{"serie":"SISMO 7 E-O","T":1.76,"Sa":0.115},{"serie":"SISMO 7 E-O","T":1.89,"Sa":0.085},{"serie":"SISMO 7 E-O","T":2.02,"Sa":0.077},{"serie":"SISMO 7 E-O","T":2.25,"Sa":0.07},{"serie":"SISMO 7 E-O","T":2.5,"Sa":0.075},{"serie":"SISMO 7 E-O","T":2.75,"Sa":0.06},{"serie":"SISMO 7 E-O","T":3.0,"Sa":0.05},{"serie":"SISMO 7 E-O","T":3.5,"Sa":0.04},{"serie":"SISMO 7 E-O","T":4.0,"Sa":0.032},
{"serie":"SISMO 7 N-S","T":0,"Sa":0.065},{"serie":"SISMO 7 N-S","T":0.05,"Sa":0.07},{"serie":"SISMO 7 N-S","T":0.1,"Sa":0.075},{"serie":"SISMO 7 N-S","T":0.15,"Sa":0.09},{"serie":"SISMO 7 N-S","T":0.2,"Sa":0.12},{"serie":"SISMO 7 N-S","T":0.25,"Sa":0.15},{"serie":"SISMO 7 N-S","T":0.28,"Sa":0.12},{"serie":"SISMO 7 N-S","T":0.32,"Sa":0.14},{"serie":"SISMO 7 N-S","T":0.36,"Sa":0.12},{"serie":"SISMO 7 N-S","T":0.4,"Sa":0.15},{"serie":"SISMO 7 N-S","T":0.45,"Sa":0.18},{"serie":"SISMO 7 N-S","T":0.5,"Sa":0.2},{"serie":"SISMO 7 N-S","T":0.55,"Sa":0.22},{"serie":"SISMO 7 N-S","T":0.6,"Sa":0.2},{"serie":"SISMO 7 N-S","T":0.65,"Sa":0.23},{"serie":"SISMO 7 N-S","T":0.7,"Sa":0.24},{"serie":"SISMO 7 N-S","T":0.75,"Sa":0.2},{"serie":"SISMO 7 N-S","T":0.8,"Sa":0.16},{"serie":"SISMO 7 N-S","T":0.85,"Sa":0.17},{"serie":"SISMO 7 N-S","T":0.9,"Sa":0.19},{"serie":"SISMO 7 N-S","T":0.95,"Sa":0.185},{"serie":"SISMO 7 N-S","T":1.0,"Sa":0.16},{"serie":"SISMO 7 N-S","T":1.05,"Sa":0.15},{"serie":"SISMO 7 N-S","T":1.12,"Sa":0.145},{"serie":"SISMO 7 N-S","T":1.2,"Sa":0.14},{"serie":"SISMO 7 N-S","T":1.28,"Sa":0.135},{"serie":"SISMO 7 N-S","T":1.36,"Sa":0.11},{"serie":"SISMO 7 N-S","T":1.45,"Sa":0.105},{"serie":"SISMO 7 N-S","T":1.55,"Sa":0.1},{"serie":"SISMO 7 N-S","T":1.65,"Sa":0.09},{"serie":"SISMO 7 N-S","T":1.75,"Sa":0.075},{"serie":"SISMO 7 N-S","T":1.9,"Sa":0.065},{"serie":"SISMO 7 N-S","T":2.0,"Sa":0.06},{"serie":"SISMO 7 N-S","T":2.25,"Sa":0.05},{"serie":"SISMO 7 N-S","T":2.5,"Sa":0.04},{"serie":"SISMO 7 N-S","T":3.0,"Sa":0.025},{"serie":"SISMO 7 N-S","T":3.5,"Sa":0.02},{"serie":"SISMO 7 N-S","T":4.0,"Sa":0.015},
{"serie":"SISMO 8 E-O","T":0,"Sa":0.095},{"serie":"SISMO 8 E-O","T":0.05,"Sa":0.1},{"serie":"SISMO 8 E-O","T":0.1,"Sa":0.12},{"serie":"SISMO 8 E-O","T":0.15,"Sa":0.17},{"serie":"SISMO 8 E-O","T":0.2,"Sa":0.15},{"serie":"SISMO 8 E-O","T":0.25,"Sa":0.19},{"serie":"SISMO 8 E-O","T":0.3,"Sa":0.2},{"serie":"SISMO 8 E-O","T":0.35,"Sa":0.21},{"serie":"SISMO 8 E-O","T":0.4,"Sa":0.2},{"serie":"SISMO 8 E-O","T":0.45,"Sa":0.21},{"serie":"SISMO 8 E-O","T":0.5,"Sa":0.2},{"serie":"SISMO 8 E-O","T":0.54,"Sa":0.266},{"serie":"SISMO 8 E-O","T":0.6,"Sa":0.25},{"serie":"SISMO 8 E-O","T":0.643,"Sa":0.2},{"serie":"SISMO 8 E-O","T":0.695,"Sa":0.17},{"serie":"SISMO 8 E-O","T":0.75,"Sa":0.18},{"serie":"SISMO 8 E-O","T":0.81,"Sa":0.195},{"serie":"SISMO 8 E-O","T":0.877,"Sa":0.18},{"serie":"SISMO 8 E-O","T":0.967,"Sa":0.165},{"serie":"SISMO 8 E-O","T":1.03,"Sa":0.18},{"serie":"SISMO 8 E-O","T":1.11,"Sa":0.21},{"serie":"SISMO 8 E-O","T":1.16,"Sa":0.236},{"serie":"SISMO 8 E-O","T":1.24,"Sa":0.245},{"serie":"SISMO 8 E-O","T":1.306,"Sa":0.25},{"serie":"SISMO 8 E-O","T":1.37,"Sa":0.306},{"serie":"SISMO 8 E-O","T":1.42,"Sa":0.311},{"serie":"SISMO 8 E-O","T":1.46,"Sa":0.306},{"serie":"SISMO 8 E-O","T":1.5,"Sa":0.38},{"serie":"SISMO 8 E-O","T":1.54,"Sa":0.466},{"serie":"SISMO 8 E-O","T":1.58,"Sa":0.526},{"serie":"SISMO 8 E-O","T":1.63,"Sa":0.58},{"serie":"SISMO 8 E-O","T":1.66,"Sa":0.583},{"serie":"SISMO 8 E-O","T":1.7,"Sa":0.569},{"serie":"SISMO 8 E-O","T":1.75,"Sa":0.586},{"serie":"SISMO 8 E-O","T":1.79,"Sa":0.597},{"serie":"SISMO 8 E-O","T":1.84,"Sa":0.576},{"serie":"SISMO 8 E-O","T":1.89,"Sa":0.531},{"serie":"SISMO 8 E-O","T":1.94,"Sa":0.476},{"serie":"SISMO 8 E-O","T":2.01,"Sa":0.356},{"serie":"SISMO 8 E-O","T":2.05,"Sa":0.326},{"serie":"SISMO 8 E-O","T":2.15,"Sa":0.256},{"serie":"SISMO 8 E-O","T":2.2,"Sa":0.23},{"serie":"SISMO 8 E-O","T":2.255,"Sa":0.218},{"serie":"SISMO 8 E-O","T":2.307,"Sa":0.206},{"serie":"SISMO 8 E-O","T":2.4,"Sa":0.185},{"serie":"SISMO 8 E-O","T":2.49,"Sa":0.15},{"serie":"SISMO 8 E-O","T":2.59,"Sa":0.13},{"serie":"SISMO 8 E-O","T":2.72,"Sa":0.095},{"serie":"SISMO 8 E-O","T":2.9,"Sa":0.073},{"serie":"SISMO 8 E-O","T":3.0,"Sa":0.068},{"serie":"SISMO 8 E-O","T":3.2,"Sa":0.06},{"serie":"SISMO 8 E-O","T":3.37,"Sa":0.053},{"serie":"SISMO 8 E-O","T":3.6,"Sa":0.045},{"serie":"SISMO 8 E-O","T":3.75,"Sa":0.043},{"serie":"SISMO 8 E-O","T":4.0,"Sa":0.048},
{"serie":"SISMO 8 N-S","T":0,"Sa":0.09},{"serie":"SISMO 8 N-S","T":0.05,"Sa":0.1},{"serie":"SISMO 8 N-S","T":0.1,"Sa":0.13},{"serie":"SISMO 8 N-S","T":0.13,"Sa":0.19},{"serie":"SISMO 8 N-S","T":0.15,"Sa":0.2},{"serie":"SISMO 8 N-S","T":0.18,"Sa":0.16},{"serie":"SISMO 8 N-S","T":0.22,"Sa":0.14},{"serie":"SISMO 8 N-S","T":0.25,"Sa":0.13},{"serie":"SISMO 8 N-S","T":0.3,"Sa":0.17},{"serie":"SISMO 8 N-S","T":0.35,"Sa":0.18},{"serie":"SISMO 8 N-S","T":0.4,"Sa":0.16},{"serie":"SISMO 8 N-S","T":0.45,"Sa":0.15},{"serie":"SISMO 8 N-S","T":0.487,"Sa":0.155},{"serie":"SISMO 8 N-S","T":0.565,"Sa":0.15},{"serie":"SISMO 8 N-S","T":0.62,"Sa":0.145},{"serie":"SISMO 8 N-S","T":0.68,"Sa":0.135},{"serie":"SISMO 8 N-S","T":0.747,"Sa":0.145},{"serie":"SISMO 8 N-S","T":0.81,"Sa":0.16},{"serie":"SISMO 8 N-S","T":0.877,"Sa":0.17},{"serie":"SISMO 8 N-S","T":0.94,"Sa":0.168},{"serie":"SISMO 8 N-S","T":1.0,"Sa":0.185},{"serie":"SISMO 8 N-S","T":1.03,"Sa":0.19},{"serie":"SISMO 8 N-S","T":1.12,"Sa":0.2},{"serie":"SISMO 8 N-S","T":1.19,"Sa":0.2},{"serie":"SISMO 8 N-S","T":1.28,"Sa":0.17},{"serie":"SISMO 8 N-S","T":1.345,"Sa":0.195},{"serie":"SISMO 8 N-S","T":1.384,"Sa":0.23},{"serie":"SISMO 8 N-S","T":1.42,"Sa":0.26},{"serie":"SISMO 8 N-S","T":1.475,"Sa":0.306},{"serie":"SISMO 8 N-S","T":1.51,"Sa":0.311},{"serie":"SISMO 8 N-S","T":1.54,"Sa":0.289},{"serie":"SISMO 8 N-S","T":1.58,"Sa":0.3},{"serie":"SISMO 8 N-S","T":1.63,"Sa":0.331},{"serie":"SISMO 8 N-S","T":1.68,"Sa":0.366},{"serie":"SISMO 8 N-S","T":1.75,"Sa":0.381},{"serie":"SISMO 8 N-S","T":1.8,"Sa":0.371},{"serie":"SISMO 8 N-S","T":1.85,"Sa":0.341},{"serie":"SISMO 8 N-S","T":1.92,"Sa":0.306},{"serie":"SISMO 8 N-S","T":2.0,"Sa":0.276},{"serie":"SISMO 8 N-S","T":2.09,"Sa":0.246},{"serie":"SISMO 8 N-S","T":2.18,"Sa":0.2},{"serie":"SISMO 8 N-S","T":2.28,"Sa":0.14},{"serie":"SISMO 8 N-S","T":2.32,"Sa":0.11},{"serie":"SISMO 8 N-S","T":2.42,"Sa":0.1},{"serie":"SISMO 8 N-S","T":2.51,"Sa":0.09},{"serie":"SISMO 8 N-S","T":2.7,"Sa":0.08},{"serie":"SISMO 8 N-S","T":2.9,"Sa":0.065},{"serie":"SISMO 8 N-S","T":3.0,"Sa":0.06},{"serie":"SISMO 8 N-S","T":3.25,"Sa":0.05},{"serie":"SISMO 8 N-S","T":3.5,"Sa":0.045},{"serie":"SISMO 8 N-S","T":4.0,"Sa":0.035}
],
"normas":[
{"serie":"RCDF-2017 Q=1","T":0,"Sa":0.14},{"serie":"RCDF-2017 Q=1","T":1.24,"Sa":0.624},{"serie":"RCDF-2017 Q=1","T":1.75,"Sa":0.624},{"serie":"RCDF-2017 Q=1","T":1.8,"Sa":0.574},{"serie":"RCDF-2017 Q=1","T":1.85,"Sa":0.535},{"serie":"RCDF-2017 Q=1","T":1.9,"Sa":0.497},{"serie":"RCDF-2017 Q=1","T":1.95,"Sa":0.463},{"serie":"RCDF-2017 Q=1","T":2.0,"Sa":0.435},{"serie":"RCDF-2017 Q=1","T":2.1,"Sa":0.382},{"serie":"RCDF-2017 Q=1","T":2.2,"Sa":0.337},{"serie":"RCDF-2017 Q=1","T":2.3,"Sa":0.298},{"serie":"RCDF-2017 Q=1","T":2.4,"Sa":0.264},{"serie":"RCDF-2017 Q=1","T":2.5,"Sa":0.237},{"serie":"RCDF-2017 Q=1","T":2.6,"Sa":0.212},{"serie":"RCDF-2017 Q=1","T":2.7,"Sa":0.191},{"serie":"RCDF-2017 Q=1","T":2.8,"Sa":0.175},{"serie":"RCDF-2017 Q=1","T":2.9,"Sa":0.161},{"serie":"RCDF-2017 Q=1","T":3.0,"Sa":0.15},{"serie":"RCDF-2017 Q=1","T":3.2,"Sa":0.13},{"serie":"RCDF-2017 Q=1","T":3.4,"Sa":0.112},{"serie":"RCDF-2017 Q=1","T":3.6,"Sa":0.097},{"serie":"RCDF-2017 Q=1","T":3.8,"Sa":0.086},{"serie":"RCDF-2017 Q=1","T":4.0,"Sa":0.077},
{"serie":"RCDF-2017 Q=2","T":0,"Sa":0.138},{"serie":"RCDF-2017 Q=2","T":0.11,"Sa":0.16},{"serie":"RCDF-2017 Q=2","T":0.24,"Sa":0.18},{"serie":"RCDF-2017 Q=2","T":0.37,"Sa":0.196},{"serie":"RCDF-2017 Q=2","T":0.5,"Sa":0.21},{"serie":"RCDF-2017 Q=2","T":0.63,"Sa":0.223},{"serie":"RCDF-2017 Q=2","T":0.76,"Sa":0.236},{"serie":"RCDF-2017 Q=2","T":0.9,"Sa":0.248},{"serie":"RCDF-2017 Q=2","T":1.05,"Sa":0.258},{"serie":"RCDF-2017 Q=2","T":1.15,"Sa":0.262},{"serie":"RCDF-2017 Q=2","T":1.24,"Sa":0.267},{"serie":"RCDF-2017 Q=2","T":1.75,"Sa":0.267},{"serie":"RCDF-2017 Q=2","T":1.8,"Sa":0.246},{"serie":"RCDF-2017 Q=2","T":1.89,"Sa":0.208},{"serie":"RCDF-2017 Q=2","T":2.0,"Sa":0.186},{"serie":"RCDF-2017 Q=2","T":2.1,"Sa":0.166},{"serie":"RCDF-2017 Q=2","T":2.2,"Sa":0.148},{"serie":"RCDF-2017 Q=2","T":2.3,"Sa":0.133},{"serie":"RCDF-2017 Q=2","T":2.4,"Sa":0.12},{"serie":"RCDF-2017 Q=2","T":2.5,"Sa":0.11},{"serie":"RCDF-2017 Q=2","T":2.6,"Sa":0.098},{"serie":"RCDF-2017 Q=2","T":2.7,"Sa":0.089},{"serie":"RCDF-2017 Q=2","T":2.8,"Sa":0.081},{"serie":"RCDF-2017 Q=2","T":2.9,"Sa":0.075},{"serie":"RCDF-2017 Q=2","T":3.0,"Sa":0.07},{"serie":"RCDF-2017 Q=2","T":3.2,"Sa":0.062},{"serie":"RCDF-2017 Q=2","T":3.35,"Sa":0.054},{"serie":"RCDF-2017 Q=2","T":3.5,"Sa":0.049},{"serie":"RCDF-2017 Q=2","T":4.0,"Sa":0.049},
{"serie":"RCDF-1976 Q=2","T":0,"Sa":0.023},{"serie":"RCDF-1976 Q=2","T":0.5,"Sa":0.102},{"serie":"RCDF-1976 Q=2","T":2.0,"Sa":0.102},{"serie":"RCDF-1976 Q=2","T":2.2,"Sa":0.088},{"serie":"RCDF-1976 Q=2","T":2.4,"Sa":0.074},{"serie":"RCDF-1976 Q=2","T":2.5,"Sa":0.07},{"serie":"RCDF-1976 Q=2","T":2.6,"Sa":0.065},{"serie":"RCDF-1976 Q=2","T":2.8,"Sa":0.056},{"serie":"RCDF-1976 Q=2","T":3.0,"Sa":0.048},{"serie":"RCDF-1976 Q=2","T":3.2,"Sa":0.042},{"serie":"RCDF-1976 Q=2","T":3.4,"Sa":0.037},{"serie":"RCDF-1976 Q=2","T":3.6,"Sa":0.033},{"serie":"RCDF-1976 Q=2","T":3.8,"Sa":0.029},{"serie":"RCDF-1976 Q=2","T":4.0,"Sa":0.025}
]
},
"encoding":{
"x":{"field":"T","type":"quantitative","title":"Periodo T(s)","scale":{"domain":[0,4],"nice":false,"zero":true},"axis":{"values":[0,0.5,1,1.5,2,2.5,3,3.5,4],"format":"~g","labelFlush":false,"labelPadding":13,"titlePadding":21,"titleX":525}},
"y":{"field":"Sa","type":"quantitative","title":"Pseudoaceleración (g)","scale":{"domain":[0,1.2],"nice":false},"axis":{"values":[0,0.2,0.4,0.6,0.8,1,1.2],"format":"~g","labelPadding":11,"titlePadding":40}},
"color":{"field":"serie","type":"nominal","scale":{
"domain":["SISMO 1 E-O","SISMO 2 E-O","SISMO 3 E-O","SISMO 4 E-O","SISMO 5 E-O","SISMO 6 E-O","SISMO 7 E-O","SISMO 8 E-O","RCDF-2017 Q=1","RCDF-1976 Q=2","SISMO 1 N-S","SISMO 2 N-S","SISMO 3 N-S","SISMO 4 N-S","SISMO 5 N-S","SISMO 6 N-S","SISMO 7 N-S","SISMO 8 N-S","RCDF-2017 Q=2"],
"range":["#C55A11","#BF9000","#ED7D31","#FFC000","#70AD47","#F4A27C","#FFD15E","#98C47F","#002060","#C00000","#7F7F7F","#5B9BD5","#A5A5A5","#4472C4","#9DC3E6","#BCBCBC","#8099D6","#B8D0EC","#000000"]},
"legend":{"title":null,"orient":"none","legendX":462,"legendY":1,"columns":2,"symbolType":"stroke","symbolSize":2500,"symbolStrokeWidth":3,"labelFont":"Lato","labelFontSize":22,"labelColor":"#000","labelOffset":6,"columnPadding":80,"rowPadding":0,"labelLimit":300}}
},
"layer":[
{"data":{"name":"sismos"},"mark":{"type":"line","strokeWidth":2.9,"interpolate":"monotone"}},
{"data":{"name":"normas"},"mark":{"type":"line","strokeWidth":3.1}}
],
"config":{
"view":{"stroke":null},
"axis":{"grid":true,"gridColor":"#B4B4B4","gridWidth":2,"ticks":false,"tickSize":0,"domainColor":"#000","domainWidth":2,"labelFont":"Liberation Sans","labelFontSize":22,"labelColor":"#000","titleFont":"Liberation Sans","titleFontSize":26,"titleFontWeight":"normal","titleColor":"#000"}
}
}
